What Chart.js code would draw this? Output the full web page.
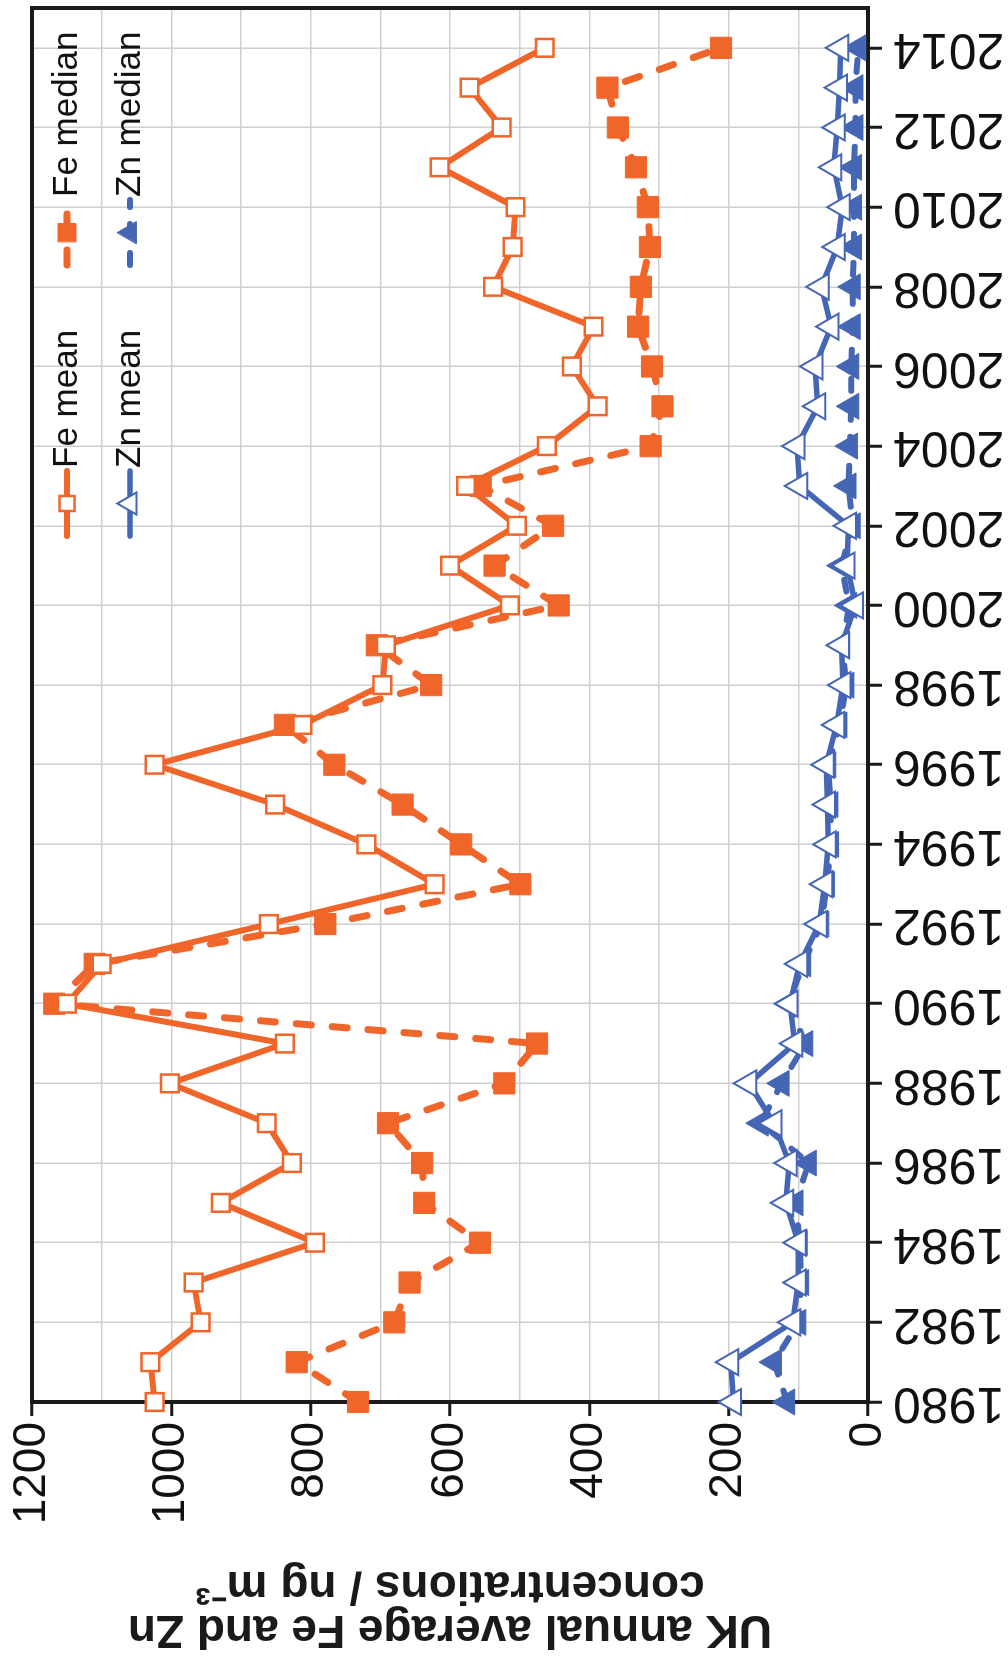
<!DOCTYPE html>
<html>
<head>
<meta charset="utf-8">
<title>UK annual average Fe and Zn</title>
<script src="https://cdn.jsdelivr.net/npm/chart.js@4.4.1/dist/chart.umd.min.js"></script>
<style>
  html, body { margin: 0; padding: 0; background: #fff; overflow: hidden; }
  /* the figure is drawn landscape and turned a quarter-turn anticlockwise;
     the canvas is a little longer than the page so the spare room Chart.js
     keeps after the last year falls off the top edge */
  #wrap {
    position: absolute; left: 0; top: 0;
    width: 1672px; height: 1008px;
    transform-origin: 0 0;
    transform: translate(0, 1663px) rotate(-90deg);
  }
</style>
</head>
<body>
<div id="wrap"><canvas id="chart" width="1672" height="1008"></canvas></div>
<script>
// Years on the x axis
const years = [1980, 1981, 1982, 1983, 1984, 1985, 1986, 1987, 1988, 1989,
  1990, 1991, 1992, 1993, 1994, 1995, 1996, 1997, 1998, 1999,
  2000, 2001, 2002, 2003, 2004, 2005, 2006, 2007, 2008, 2009,
  2010, 2011, 2012, 2013, 2014];

// Concentrations, ng m-3
const feMean = [1024, 1030, 958, 968, 794, 929, 827, 863, 1002, 837,
  1150, 1100, 860, 622, 720, 851, 1024, 812, 697, 692,
  514, 600, 504, 577, 461, 388, 425, 394, 538, 510,
  506, 615, 526, 572, 464];
const feMedian = [732, 820, 680, 658, 557, 637, 640, 689, 522, 475,
  1168, 1110, 779, 499, 584, 668, 766, 837, 627, 705,
  444, 536, 452, 556, 312, 295, 310, 330, 326, 313,
  316, 333, 359, 374, 211];
const znMean = [193, 197, 108, 100, 100, 118, 113, 135, 171, 105,
  112, 98, 70, 62, 57, 58, 60, 45, 36, 38,
  18, 30, 28, 98, 102, 72, 76, 53, 67, 44,
  37, 49, 44, 41, 39];
const znMedian = [116, 135, 100, 96, 98, 104, 85, 154, 124, 90,
  114, 93, 67, 59, 53, 54, 57, 41, 31, 37,
  27, 38, 22, 28, 26, 24, 24, 22, 22, 20,
  20, 20, 18, 18, 14];

const seriesLabels = ['Fe mean', 'Fe median', 'Zn mean', 'Zn median'];
const yTitle = ['UK annual average Fe and Zn', 'concentrations / ng m\u207B\u00B3'];

const ORANGE = '#F0652A';
const BLUE = '#4565B5';
const SANS = "'Liberation Sans', Arial, sans-serif";

// legend layout (canvas px): sample line start per column, row centres
const LEGEND_COLS = [1127, 1398];
const LEGEND_ROWS = [67, 130];
const LEGEND_SAMPLE = 65;

function toPoints(values) {
  return years.map((yr, i) => ({ x: yr, y: values[i] }));
}

// black box round the plot area
const framePlugin = {
  id: 'frame',
  beforeDatasetsDraw(chart) {
    const { ctx, chartArea: a } = chart;
    ctx.save();
    ctx.strokeStyle = '#1a1a1a';
    ctx.lineWidth = 4;
    ctx.strokeRect(a.left, a.top, a.right - a.left, a.bottom - a.top);
    ctx.restore();
  },
};

// legend sitting inside the top-right corner, two per row
const legendPlugin = {
  id: 'cornerLegend',
  afterDraw(chart) {
    const ctx = chart.ctx;
    chart.data.datasets.forEach((ds, i) => {
      const x0 = LEGEND_COLS[i % 2];
      const x1 = x0 + LEGEND_SAMPLE;
      const y = LEGEND_ROWS[Math.floor(i / 2)];
      ctx.save();
      ctx.strokeStyle = ds.borderColor;
      ctx.lineWidth = ds.borderWidth;
      ctx.lineCap = 'round';
      ctx.setLineDash(ds.borderDash || []);
      ctx.beginPath();
      ctx.moveTo(x0, y);
      ctx.lineTo(x1, y);
      ctx.stroke();
      ctx.setLineDash([]);
      ctx.fillStyle = ds.pointBackgroundColor;
      ctx.strokeStyle = ds.pointBorderColor;
      ctx.lineWidth = ds.pointBorderWidth;
      Chart.helpers.drawPoint(ctx, {
        pointStyle: ds.pointStyle,
        radius: ds.pointRadius * 0.85,
        borderWidth: ds.pointBorderWidth,
        rotation: 0,
      }, (x0 + x1) / 2, y);
      ctx.fillStyle = '#111';
      ctx.font = '35px ' + SANS;
      ctx.textBaseline = 'middle';
      ctx.textAlign = 'left';
      ctx.fillText(ds.label, x1 + 3, y);
      ctx.restore();
    });
  },
};

function makeDataset(label, values, color, opts) {
  return Object.assign({
    label,
    data: toPoints(values),
    borderColor: color,
    pointBorderColor: color,
    borderCapStyle: 'round',
    borderJoinStyle: 'round',
    tension: 0,
    clip: false,
  }, opts);
}

const datasets = [
  makeDataset(seriesLabels[0], feMean, ORANGE, {
    borderWidth: 6, pointStyle: 'rect', pointRadius: 12.5,
    pointBorderWidth: 2.5, pointBackgroundColor: '#ffffff',
  }),
  makeDataset(seriesLabels[1], feMedian, ORANGE, {
    borderWidth: 7, borderDash: [15, 21], pointStyle: 'rect', pointRadius: 15,
    pointBorderWidth: 1, pointBackgroundColor: ORANGE,
  }),
  makeDataset(seriesLabels[2], znMean, BLUE, {
    borderWidth: 5.5, pointStyle: 'triangle', pointRadius: 15,
    pointBorderWidth: 2, pointBackgroundColor: '#ffffff',
  }),
  makeDataset(seriesLabels[3], znMedian, BLUE, {
    borderWidth: 6, borderDash: [12, 17], pointStyle: 'triangle', pointRadius: 15,
    pointBorderWidth: 1, pointBackgroundColor: BLUE,
  }),
];

new Chart(document.getElementById('chart').getContext('2d'), {
  type: 'line',
  data: { datasets },
  plugins: [framePlugin, legendPlugin],
  options: {
    responsive: false,
    devicePixelRatio: 1,
    animation: false,
    layout: { padding: { top: 32, right: 4, left: 0, bottom: 0 } },
    plugins: { legend: { display: false }, tooltip: { enabled: false } },
    scales: {
      x: {
        type: 'linear',
        min: 1980,
        max: 2015,
        afterFit: (s) => { s.height = 140; s.paddingLeft = 0; s.paddingRight = 0; },
        border: { display: true, color: '#1a1a1a', width: 4 },
        grid: { color: '#cfcfcf', lineWidth: 1.5, tickColor: '#1a1a1a', tickLength: 14, tickWidth: 3 },
        ticks: {
          stepSize: 2,
          includeBounds: false,
          autoSkip: false,
          minRotation: 90,
          maxRotation: 90,
          padding: 11,
          color: '#111',
          font: { family: SANS, size: 50 },
          callback: (v) => String(v),
        },
      },
      y: {
        min: 0,
        max: 1200,
        afterFit: (s) => { s.width = 261; s.paddingTop = 0; s.paddingBottom = 0; },
        border: { display: true, color: '#1a1a1a', width: 4 },
        grid: {
          color: '#cfcfcf', lineWidth: 1.5, tickLength: 14, tickWidth: 3,
          tickColor: (c) => (c.tick && c.tick.value % 200 === 0 ? '#1a1a1a' : 'rgba(0,0,0,0)'),
        },
        ticks: {
          stepSize: 100,
          autoSkip: false,
          padding: 6,
          color: '#111',
          font: { family: SANS, size: 46 },
          callback: (v) => (v % 200 === 0 ? String(v) : ''),
        },
        title: {
          display: true,
          text: yTitle,
          color: '#1a1a1a',
          padding: { top: 12, bottom: 0 },
          font: { family: SANS, size: 46, weight: 'bold', lineHeight: 0.96 },
        },
      },
    },
  },
});
</script>
</body>
</html>
